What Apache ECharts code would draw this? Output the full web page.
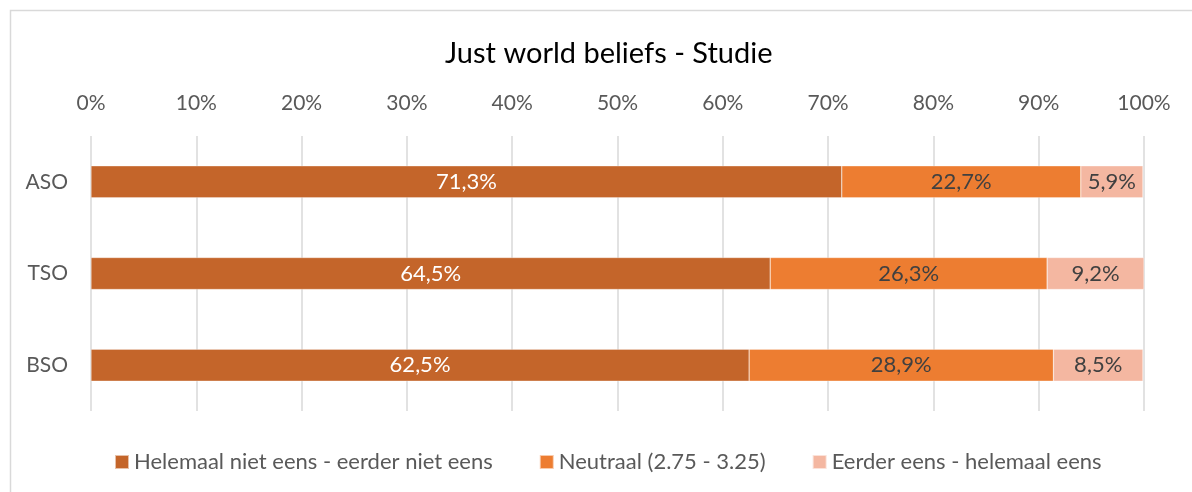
<!DOCTYPE html>
<html><head><meta charset="utf-8">
<script src="https://cdn.jsdelivr.net/npm/echarts@6/dist/echarts.min.js"></script>
<style>html,body{margin:0;padding:0;background:#fff}#c{width:1192px;height:492px}</style>
</head><body><div id="c"></div>
<script>
const categories = ['ASO', 'TSO', 'BSO'];
const seriesNames = ['Helemaal niet eens - eerder niet eens', 'Neutraal (2.75 - 3.25)', 'Eerder eens - helemaal eens'];
const disagree = [71.3, 64.5, 62.5];
const neutral = [22.7, 26.3, 28.9];
const agree = [5.9, 9.2, 8.5];
const tickValues = [0, 10, 20, 30, 40, 50, 60, 70, 80, 90, 100];

const colors = ['#C4652A', '#ED7D31', '#F4B7A1'];
const labelColors = ['#FFFFFF', '#404040', '#404040'];
const FONT = 'Lato, "Open Sans", sans-serif';
const values = [disagree, neutral, agree];

const chart = echarts.init(document.getElementById('c'));
chart.setOption({
  animation: false,
  textStyle: { fontFamily: FONT },
  graphic: [{ type: 'rect', shape: { x: 10.5, y: 10.5, width: 1200, height: 500 }, style: { fill: 'none', stroke: '#D9D9D9', lineWidth: 1.5 }, silent: true }],
  title: { text: 'Just world beliefs - Studie', left: 440, top: 34, textStyle: { fontFamily: FONT, fontSize: 29, fontWeight: 'normal', color: '#000' } },
  legend: {
    bottom: 19, left: 114, padding: 0, itemWidth: 14, itemHeight: 14, itemGap: 46,
    icon: 'rect', textStyle: { fontFamily: FONT, fontSize: 22, color: '#595959' },
    data: seriesNames
  },
  grid: { left: 91, right: 48, top: 136, bottom: 81 },
  xAxis: {
    type: 'value', position: 'top', min: 0, max: 100, interval: 10,
    axisLine: { show: false }, axisTick: { show: false },
    splitLine: { lineStyle: { color: '#D9D9D9', width: 1.5 } },
    axisLabel: { fontFamily: FONT, fontSize: 21, color: '#595959', margin: 22, formatter: v => tickValues.includes(v) ? v + '%' : '' }
  },
  yAxis: {
    type: 'category', inverse: true, data: categories,
    axisLine: { show: false }, axisTick: { show: false },
    axisLabel: { fontFamily: FONT, fontSize: 21, color: '#595959', margin: 23 }
  },
  series: seriesNames.map((n, i) => ({
    name: n, type: 'bar', stack: 'total', barWidth: 32, data: values[i],
    itemStyle: { color: colors[i], borderColor: 'rgba(255,255,255,0.6)', borderWidth: 0.5 },
    label: { show: true, position: 'inside', fontFamily: FONT, fontSize: 22, color: labelColors[i],
      formatter: p => p.value.toFixed(1).replace('.', ',') + '%' }
  }))
});
</script></body></html>
